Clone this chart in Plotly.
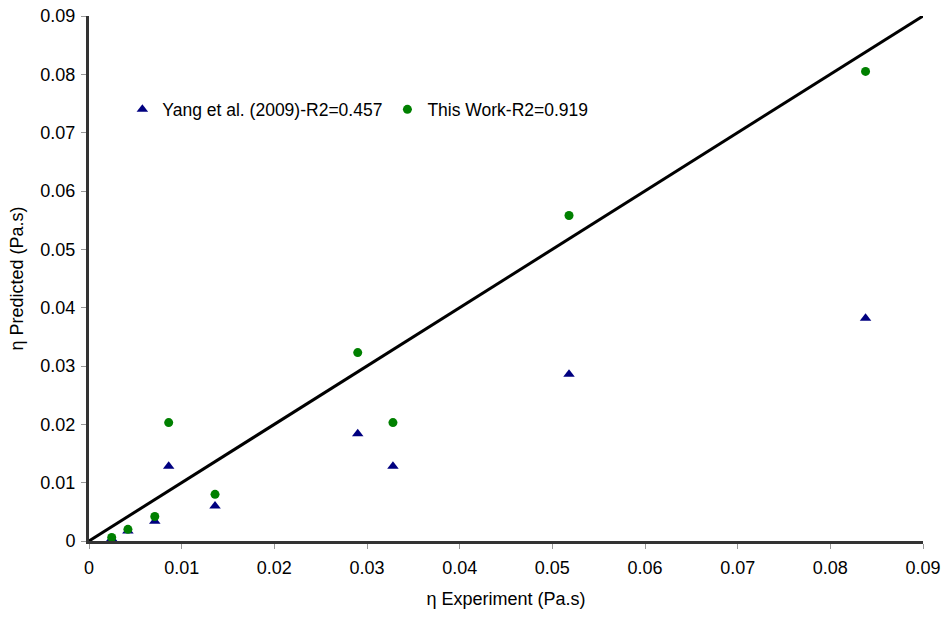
import plotly.graph_objects as go

# Data
exp_x = [0.00245, 0.0042, 0.0071, 0.0086, 0.0136, 0.0290, 0.0328, 0.0518, 0.0838]
yang_pred = [0.0004, 0.0017, 0.0034, 0.0128, 0.0060, 0.0184, 0.0128, 0.0286, 0.0382]
this_pred = [0.0006, 0.0020, 0.0042, 0.0203, 0.0080, 0.0323, 0.0203, 0.0558, 0.0805]
diag = [0.0, 0.09]
tick_vals = [0, 0.01, 0.02, 0.03, 0.04, 0.05, 0.06, 0.07, 0.08, 0.09]
tick_text = ["0", "0.01", "0.02", "0.03", "0.04", "0.05", "0.06", "0.07", "0.08", "0.09"]

FONT = "Arial, 'Liberation Sans', sans-serif"

fig = go.Figure()
fig.add_trace(go.Scatter(x=diag, y=diag, mode="lines",
                         line=dict(color="black", width=3),
                         showlegend=False, hoverinfo="skip"))
fig.add_trace(go.Scatter(x=exp_x, y=yang_pred, mode="markers",
                         name="Yang et al. (2009)-R2=0.457",
                         marker=dict(symbol="triangle-up", size=10, color="#000080")))
fig.add_trace(go.Scatter(x=exp_x, y=this_pred, mode="markers",
                         name="This Work-R2=0.919",
                         marker=dict(symbol="circle", size=9, color="#008000")))

axis_common = dict(
    range=[0, 0.09], tickvals=tick_vals, ticktext=tick_text,
    showgrid=False, zeroline=False, showline=True, linecolor="#333333", linewidth=3,
    ticks="outside", ticklen=5, tickcolor="#999999", tickwidth=1,
    tickfont=dict(family=FONT, size=18, color="black"),
    automargin=False,
)

fig.update_layout(
    width=943, height=618,
    margin=dict(l=89, r=20, t=16, b=77),
    paper_bgcolor="white", plot_bgcolor="white",
    font=dict(family=FONT, size=18, color="black"),
    xaxis=dict(**axis_common, ticklabelstandoff=3,
               title=dict(text="η Experiment (Pa.s)", font=dict(family=FONT, size=18), standoff=16)),
    yaxis=dict(**axis_common, ticklabelstandoff=2,
               title=dict(text="η Predicted (Pa.s)", font=dict(family=FONT, size=18), standoff=13)),
    legend=dict(orientation="h", x=0.04, y=0.822, xanchor="left", yanchor="middle",
                bgcolor="rgba(0,0,0,0)", font=dict(family=FONT, size=17.5),
                itemwidth=30, traceorder="normal"),
)

fig.write_html("out.html")
